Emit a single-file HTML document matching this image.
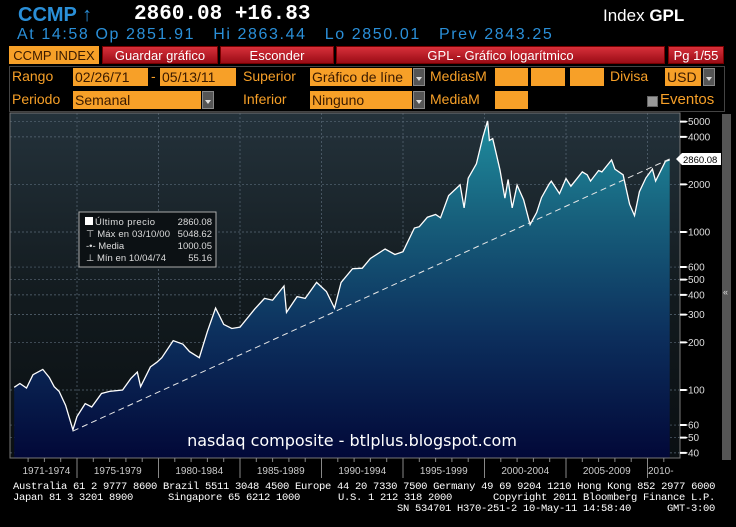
<!DOCTYPE html>
<html><head><meta charset="utf-8">
<style>
body{margin:0;background:#000;width:736px;height:527px;overflow:hidden;position:relative;font-family:"Liberation Sans",sans-serif;}
.a{position:absolute;white-space:nowrap;}
.lbl{color:#f7a028;font-size:14px;font-family:"Liberation Sans Narrow","Liberation Sans",sans-serif;}
.box{position:absolute;background:#f7a028;color:#3a1a00;font-size:14px;height:18px;line-height:18px;padding-left:2px;box-sizing:border-box;font-family:"Liberation Sans Narrow","Liberation Sans",sans-serif;overflow:hidden;}
.dd{position:absolute;width:12px;height:18px;background:#555;border:1px solid #888;box-sizing:border-box;}
.dd:after{content:"";position:absolute;left:2px;top:8px;border-left:3px solid transparent;border-right:3px solid transparent;border-top:4px solid #ddd;}
.tb{position:absolute;top:46px;height:18px;line-height:18px;font-size:13px;color:#fff;text-align:center;background:linear-gradient(#d8303a,#9a0c16);border:1px solid #700;box-sizing:border-box;}
.foot{position:absolute;color:#fff;font-family:"Liberation Mono",monospace;font-size:10.5px;white-space:nowrap;letter-spacing:-0.3px;}
</style></head><body>
<div class="a" style="left:18px;top:4px;color:#2a8fd8;font-size:20px;font-weight:bold;">CCMP ↑</div>
<div class="a" style="left:134px;top:3px;color:#fff;font-size:21px;font-weight:bold;font-family:'Liberation Mono',monospace;">2860.08 +16.83</div>
<div class="a" style="left:603px;top:6px;color:#fff;font-size:17px;">Index <b>GPL</b></div>
<div class="a" style="left:17px;top:26px;color:#2a8fd8;font-size:16px;letter-spacing:1.6px;">At 14:58 Op 2851.91 &nbsp;&nbsp;Hi 2863.44 &nbsp;&nbsp;Lo 2850.01 &nbsp;&nbsp;Prev 2843.25</div>

<div class="tb" style="left:9px;width:90px;background:#f7a028;color:#3a1a00;border-color:#f7a028;">CCMP INDEX</div>
<div class="tb" style="left:102px;width:116px;">Guardar gráfico</div>
<div class="tb" style="left:220px;width:114px;">Esconder</div>
<div class="tb" style="left:336px;width:329px;">GPL - Gráfico logarítmico</div>
<div class="tb" style="left:668px;width:56px;">Pg 1/55</div>

<div class="a" style="left:9px;top:66px;width:716px;height:46px;border:1px solid #444;box-sizing:border-box;"></div>
<div class="a lbl" style="left:12px;top:68px;">Rango</div>
<div class="box" style="left:73px;top:68px;width:75px;">02/26/71</div>
<div class="a lbl" style="left:151px;top:68px;">-</div>
<div class="box" style="left:160px;top:68px;width:76px;">05/13/11</div>
<div class="a lbl" style="left:243px;top:68px;">Superior</div>
<div class="box" style="left:310px;top:68px;width:102px;">Gráfico de líne</div>
<div class="dd" style="left:413px;top:68px;"></div>
<div class="a lbl" style="left:430px;top:68px;">MediasM</div>
<div class="box" style="left:495px;top:68px;width:33px;"></div>
<div class="box" style="left:531px;top:68px;width:34px;"></div>
<div class="box" style="left:570px;top:68px;width:34px;"></div>
<div class="a lbl" style="left:610px;top:68px;">Divisa</div>
<div class="box" style="left:665px;top:68px;width:36px;">USD</div>
<div class="dd" style="left:703px;top:68px;"></div>

<div class="a lbl" style="left:12px;top:91px;">Periodo</div>
<div class="box" style="left:73px;top:91px;width:128px;">Semanal</div>
<div class="dd" style="left:202px;top:91px;"></div>
<div class="a lbl" style="left:243px;top:91px;">Inferior</div>
<div class="box" style="left:310px;top:91px;width:102px;">Ninguno</div>
<div class="dd" style="left:413px;top:91px;"></div>
<div class="a lbl" style="left:430px;top:91px;">MediaM</div>
<div class="box" style="left:495px;top:91px;width:33px;"></div>
<div class="a" style="left:647px;top:96px;width:9px;height:9px;background:#999;border:1px solid #666;"></div>
<div class="a lbl" style="left:660px;top:91px;font-size:15px;">Eventos</div>

<div class="a" style="left:722px;top:114px;width:9px;height:346px;background:#555;"></div>
<div class="a" style="left:723px;top:287px;color:#ddd;font-size:9px;">«</div>

<svg id="chart" width="736" height="527" style="position:absolute;left:0;top:0;" xmlns="http://www.w3.org/2000/svg">
<defs>
<linearGradient id="bg" x1="0" y1="0" x2="0" y2="1">
<stop offset="0" stop-color="#24323b"/><stop offset="0.55" stop-color="#121a1e"/><stop offset="1" stop-color="#0a0f12"/>
</linearGradient>
<linearGradient id="fill" gradientUnits="userSpaceOnUse" x1="0" y1="115" x2="0" y2="458">
<stop offset="0" stop-color="#1f8fa0"/><stop offset="0.3" stop-color="#17607c"/><stop offset="0.65" stop-color="#0c2e5c"/><stop offset="1" stop-color="#020838"/>
</linearGradient>
</defs>
<rect x="10" y="113" width="670" height="345" fill="url(#bg)"/>
<g id="grid"></g>
<path id="area" fill="url(#fill)"/>
<path id="line" fill="none" stroke="#fff" stroke-width="1.3"/>
<line id="trend" stroke="#e8e8e8" stroke-width="1" stroke-dasharray="6,4"/>
<rect x="10" y="113" width="670" height="345" fill="none" stroke="#777" stroke-width="1"/>
<g id="axes"></g>
<g font-family="Liberation Sans Narrow, Liberation Sans, sans-serif" font-size="9.5" fill="#ddd">
<rect x="79" y="212" width="137" height="55" fill="#0c1114" stroke="#aaa" stroke-width="1"/>
<rect x="85" y="217" width="8" height="8" fill="#fff"/>
<text x="95" y="225" textLength="60">Último precio</text><text x="212" y="225" text-anchor="end">2860.08</text>
<text x="86" y="237" textLength="84">⊤ Máx en 03/10/00</text><text x="212" y="237" text-anchor="end">5048.62</text>
<text x="86" y="249">-•- Media</text><text x="212" y="249" text-anchor="end">1000.05</text>
<text x="86" y="261" textLength="80">⊥ Mín en 10/04/74</text><text x="212" y="261" text-anchor="end">55.16</text>
</g>
<text x="352" y="446" text-anchor="middle" fill="#fff" font-size="16" font-family="DejaVu Sans, sans-serif">nasdaq composite - btlplus.blogspot.com</text>
<g>
<polygon points="676,159 682,153 721,153 721,165 682,165" fill="#fff"/>
<text x="683" y="163" font-size="9.5" fill="#000" font-family="Liberation Sans Narrow, Liberation Sans, sans-serif">2860.08</text>
</g>
</svg>

<div class="foot" style="left:13px;top:481px;">Australia 61 2 9777 8600 Brazil 5511 3048 4500 Europe 44 20 7330 7500 Germany 49 69 9204 1210 Hong Kong 852 2977 6000</div>
<div class="foot" style="left:13px;top:492px;">Japan 81 3 3201 8900</div>
<div class="foot" style="left:168px;top:492px;">Singapore 65 6212 1000</div>
<div class="foot" style="left:338px;top:492px;">U.S. 1 212 318 2000</div>
<div class="foot" style="left:493px;top:492px;">Copyright 2011 Bloomberg Finance L.P.</div>
<div class="foot" style="left:397px;top:503px;">SN 534701 H370-251-2 10-May-11 14:58:40 &nbsp;&nbsp;&nbsp;&nbsp;&nbsp;GMT-3:00</div>

<script>
const years = [1971.15,1971.5,1971.9,1972.3,1972.9,1973.3,1973.6,1973.9,1974.3,1974.75,1975.0,1975.5,1975.9,1976.5,1977.0,1977.8,1978.3,1978.7,1978.9,1979.5,1979.9,1980.2,1980.9,1981.5,1981.9,1982.5,1983.0,1983.5,1984.0,1984.5,1985.0,1985.9,1986.5,1987.0,1987.7,1987.85,1988.5,1989.0,1989.7,1990.3,1990.8,1991.2,1991.9,1992.5,1993.0,1993.9,1994.5,1995.0,1995.7,1996.0,1996.5,1997.0,1997.3,1997.8,1998.5,1998.75,1999.0,1999.5,1999.9,2000.19,2000.3,2000.5,2000.7,2000.95,2001.25,2001.45,2001.7,2002.0,2002.4,2002.8,2003.2,2003.5,2003.95,2004.1,2004.6,2005.0,2005.3,2006.0,2006.3,2006.5,2007.0,2007.2,2007.8,2008.0,2008.5,2008.9,2009.2,2009.5,2009.9,2010.3,2010.5,2011.1,2011.36];
const values = [104,110,103,125,135,120,105,98,80,56,68,82,78,95,98,100,118,130,105,140,150,160,205,195,175,160,235,330,260,245,250,325,380,370,455,310,390,380,480,420,330,480,586,590,680,780,720,750,1060,1080,1240,1290,1230,1700,1990,1420,2190,2700,4000,5048,3800,3900,3200,2470,1640,2150,1420,1980,1600,1114,1330,1650,2000,2100,1750,2180,1950,2400,2300,2100,2450,2400,2860,2500,2300,1500,1270,1800,2200,2500,2100,2800,2860];
const yTicks = [5000,4000,2000,1000,600,500,400,300,200,100,60,50,40];
const xPeriods = ["1971-1974","1975-1979","1980-1984","1985-1989","1990-1994","1995-1999","2000-2004","2005-2009","2010-"];
const xBreaks = [1971,1975,1980,1985,1990,1995,2000,2005,2010,2012];
const trendStart = [1974.75,55], trendEnd = [2011.36,2900];

const NS="http://www.w3.org/2000/svg";
const xs = y => 77 + (y-1975)*16.3;
const ys = v => 390 - 158*Math.log10(v/100);
function mk(tag,attrs,parent){const e=document.createElementNS(NS,tag);for(const k in attrs)e.setAttribute(k,attrs[k]);parent.appendChild(e);return e;}
const grid=document.getElementById('grid'), axes=document.getElementById('axes');
yTicks.forEach(t=>{
  const y=ys(t);
  const gl=mk('line',{x1:10,x2:680,y1:y,y2:y,stroke:'#5a6a78','stroke-dasharray':'2,2','stroke-width':0.7},grid);
  
  
  const tk=mk('polygon',{points:`680,${y-1} 686,${y-1} 688,${y} 686,${y+1} 680,${y+1}`,fill:'#fff'},axes);
  
  
  const tx=mk('text',{x:688,y:y+3.5,fill:'#ddd','font-size':10,'font-family':'Liberation Sans Narrow, Liberation Sans, sans-serif'},axes);
  tx.textContent=t;
  
  
});
xPeriods.forEach((p,i)=>{
  const x0=xs(xBreaks[i]), x1=Math.min(xs(xBreaks[i+1]),680);
  if(i>0){
    const gl=mk('line',{x1:x0,x2:x0,y1:113,y2:458,stroke:'#5a6a78','stroke-dasharray':'2,2','stroke-width':0.7},grid);
    
    
    const dv=mk('line',{x1:x0,x2:x0,y1:458,y2:478,stroke:'#888','stroke-width':1},axes);
    
    
  }
  const tx=mk('text',{x:(x0+(i==8?x1-6:x1))/2+(i==0?2:0),y:474,fill:'#ccc','font-size':10,'text-anchor':'middle','font-family':'Liberation Sans Narrow, Liberation Sans, sans-serif'},axes);
  tx.textContent=p;
  
  
});
for(let y=1972;y<=2011;y++){
  const t=mk('line',{x1:xs(y),x2:xs(y),y1:458,y2:462,stroke:'#888'},axes);
  
  
}
let d='';
years.forEach((y,i)=>{d+=(i?'L':'M')+xs(y).toFixed(1)+','+ys(values[i]).toFixed(1);});
document.getElementById('line').setAttribute('d',d);
document.getElementById('area').setAttribute('d',d+`L${xs(years[years.length-1]).toFixed(1)},458L${xs(years[0]).toFixed(1)},458Z`);
const tr=document.getElementById('trend');
tr.setAttribute('x1',xs(trendStart[0]));tr.setAttribute('y1',ys(trendStart[1]));
tr.setAttribute('x2',xs(trendEnd[0]));tr.setAttribute('y2',ys(trendEnd[1]));
</script>
</body></html>
